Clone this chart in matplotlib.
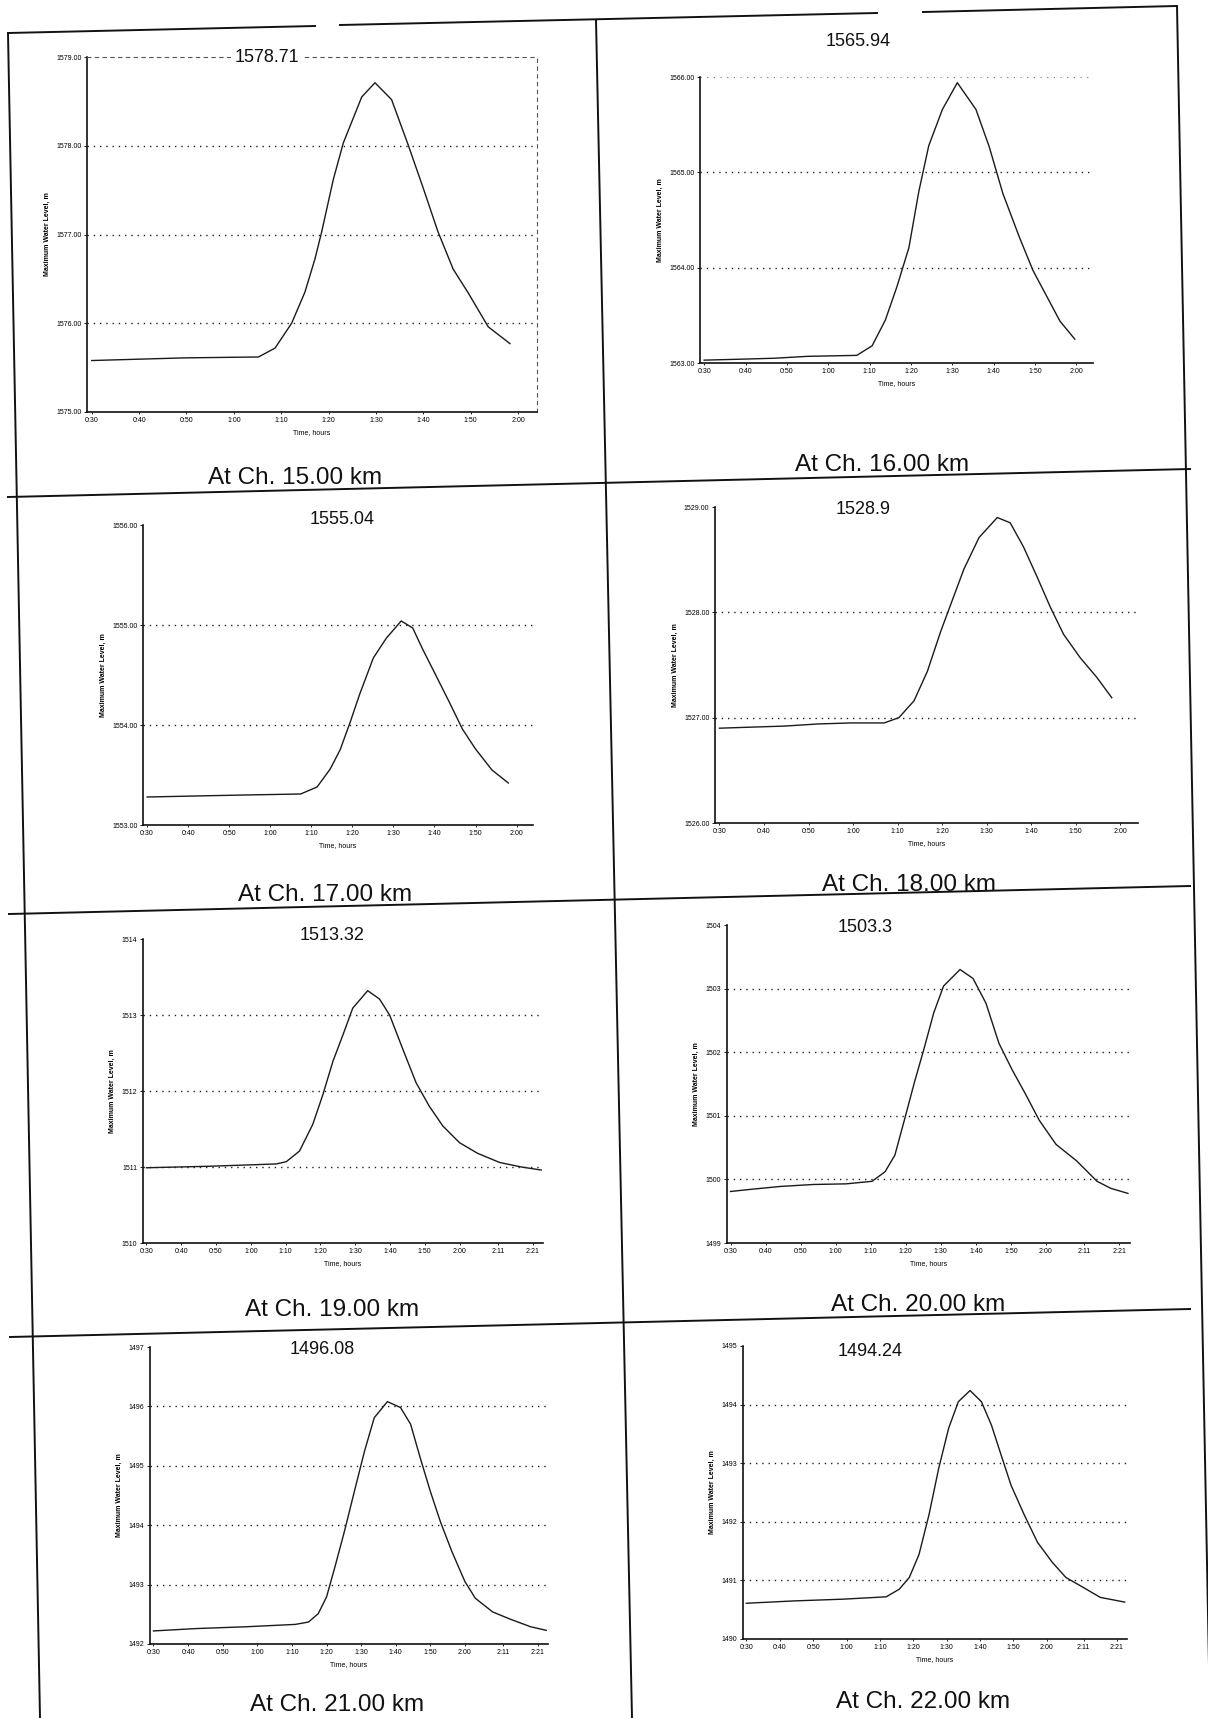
import matplotlib
matplotlib.use("Agg")
import matplotlib.pyplot as plt
from matplotlib.lines import Line2D

plt.rcParams['font.family'] = ['Liberation Sans', 'DejaVu Sans']

W, H = 1208, 1718

# ---- data (time in minutes, level in m) ----
ch15_time = [30, 49.7, 65.2, 68.7, 72.2, 75.0, 77.1, 78.5, 81.0, 83.1, 87.0, 89.8,
             93.3, 96.8, 100.0, 103.1, 106.3, 109.5, 113.7, 118.3]
ch15_level = [1575.58, 1575.61, 1575.62, 1575.72, 1576.00, 1576.35, 1576.72, 1577.02,
              1577.62, 1578.03, 1578.55, 1578.71, 1578.52, 1578.01, 1577.52, 1577.03,
              1576.61, 1576.34, 1575.96, 1575.77]

ch16_time = [30, 38.9, 47.0, 55.1, 66.9, 70.6, 73.8, 76.6, 79.5, 81.9, 84.3, 87.6,
             91.2, 95.7, 98.9, 102.2, 106.2, 109.5, 116.0, 119.6]
ch16_level = [1563.03, 1563.04, 1563.05, 1563.07, 1563.08, 1563.18, 1563.45, 1563.80,
              1564.21, 1564.80, 1565.28, 1565.66, 1565.94, 1565.66, 1565.27, 1564.78,
              1564.32, 1563.97, 1563.44, 1563.25]

ch17_time = [30, 41.7, 53.7, 67.4, 71.4, 74.6, 77.0, 79.4, 81.8, 85.1, 88.3, 91.9,
             94.7, 97.1, 100.3, 103.6, 106.8, 110.0, 114.0, 118.0]
ch17_level = [1553.28, 1553.29, 1553.30, 1553.31, 1553.38, 1553.56, 1553.75, 1554.02,
              1554.31, 1554.67, 1554.87, 1555.04, 1554.97, 1554.76, 1554.50, 1554.23,
              1553.96, 1553.76, 1553.55, 1553.42]

ch18_time = [30, 37.1, 44.6, 52.0, 59.5, 67.0, 70.3, 73.7, 76.7, 79.7, 81.9, 84.9,
             88.3, 92.4, 95.3, 98.3, 101.3, 104.3, 107.3, 111.0, 114.8, 118.1]
ch18_level = [1526.90, 1526.91, 1526.92, 1526.94, 1526.95, 1526.95, 1527.00, 1527.16,
              1527.44, 1527.82, 1528.07, 1528.41, 1528.71, 1528.90, 1528.85, 1528.62,
              1528.34, 1528.05, 1527.79, 1527.57, 1527.38, 1527.19]

ch19_time = [30, 48.2, 67.3, 70.2, 74.0, 77.8, 80.7, 83.6, 86.5, 89.3, 93.6, 97.0,
             99.9, 103.7, 107.5, 111.3, 115.2, 120.0, 125.2, 131.5, 137.8, 143.5]
ch19_level = [1510.99, 1511.01, 1511.04, 1511.07, 1511.21, 1511.56, 1511.95, 1512.39,
              1512.74, 1513.09, 1513.32, 1513.21, 1513.00, 1512.55, 1512.11, 1511.80,
              1511.54, 1511.32, 1511.18, 1511.06, 1511.00, 1510.96]

ch20_time = [30, 35.1, 44.4, 53.7, 63.0, 70.4, 74.1, 76.9, 79.7, 82.5, 85.2, 88.0,
             90.8, 95.5, 99.2, 102.9, 106.6, 110.4, 114.1, 118.1, 122.9, 128.8,
             134.6, 138.5, 143.4]
ch20_level = [1499.81, 1499.84, 1499.89, 1499.92, 1499.93, 1499.97, 1500.12, 1500.38,
              1500.95, 1501.53, 1502.05, 1502.62, 1503.04, 1503.30, 1503.16, 1502.77,
              1502.14, 1501.72, 1501.35, 1500.93, 1500.55, 1500.29, 1499.97, 1499.86,
              1499.78]

ch21_time = [30, 42.4, 56.7, 71.0, 74.8, 77.6, 80.0, 82.4, 85.2, 88.1, 91.0, 93.8,
             97.6, 101.4, 104.3, 107.1, 110.0, 112.9, 116.2, 120.0, 123.0, 128.0,
             133.0, 139.0, 143.5]
ch21_level = [1492.22, 1492.26, 1492.29, 1492.33, 1492.37, 1492.51, 1492.79, 1493.29,
              1493.90, 1494.58, 1495.25, 1495.81, 1496.08, 1495.98, 1495.70, 1495.13,
              1494.57, 1494.06, 1493.56, 1493.05, 1492.77, 1492.54, 1492.42, 1492.29,
              1492.23]

ch22_time = [30, 44.3, 59.1, 71.9, 75.8, 78.8, 81.7, 84.7, 87.6, 90.6, 93.5, 97.0,
             100.4, 103.4, 106.3, 109.3, 113.3, 117.2, 121.6, 125.7, 130.9, 136.0, 143.3]
ch22_level = [1490.61, 1490.65, 1490.68, 1490.72, 1490.85, 1491.05, 1491.44, 1492.12,
              1492.91, 1493.60, 1494.05, 1494.24, 1494.05, 1493.65, 1493.14, 1492.62,
              1492.11, 1491.65, 1491.31, 1491.05, 1490.88, 1490.71, 1490.63]

peak_labels = ["1578.71", "1565.94", "1555.04", "1528.9",
               "1513.32", "1503.3", "1496.08", "1494.24"]
captions = ["At Ch. 15.00 km", "At Ch. 16.00 km", "At Ch. 17.00 km", "At Ch. 18.00 km",
            "At Ch. 19.00 km", "At Ch. 20.00 km", "At Ch. 21.00 km", "At Ch. 22.00 km"]
y_ranges = [(1575, 1579), (1563, 1566), (1553, 1556), (1526, 1529),
            (1510, 1514), (1499, 1504), (1492, 1497), (1490, 1495)]

short_ticks = [30, 40, 50, 60, 70, 80, 90, 100, 110, 120]
short_labels = ["0:30", "0:40", "0:50", "1:00", "1:10", "1:20", "1:30", "1:40", "1:50", "2:00"]
long_ticks = short_ticks + [131, 141]
long_labels = short_labels + ["2:11", "2:21"]

series = [(ch15_time, ch15_level), (ch16_time, ch16_level), (ch17_time, ch17_level),
          (ch18_time, ch18_level), (ch19_time, ch19_level), (ch20_time, ch20_level),
          (ch21_time, ch21_level), (ch22_time, ch22_level)]

# ---- layout in page pixels: axes box (left, right, top, bottom), title xy, caption xy ----
boxes = [(87, 537, 57, 412), (700, 1093, 77, 363), (143, 533, 525, 825), (715, 1138, 507, 823),
         (143, 543, 939, 1243), (727, 1130, 925, 1243), (150, 548, 1347, 1644), (743, 1127, 1346, 1639)]
title_xy = [(267, 58), (858, 42), (342, 520), (863, 510),
            (332, 935), (865, 927), (322, 1350), (870, 1352)]
caption_xy = [(295, 478), (882, 465), (325, 895), (909, 885),
              (332, 1310), (918, 1305), (337, 1705), (923, 1702)]

fig = plt.figure(figsize=(W / 100, H / 100), dpi=100)
fig.patch.set_facecolor('white')


def px_axes(left, right, top, bottom):
    return fig.add_axes([left / W, 1 - bottom / H, (right - left) / W, (bottom - top) / H])


def page_line(x0, y0, x1, y1, lw=1.4):
    fig.add_artist(Line2D([x0 / W, x1 / W], [1 - y0 / H, 1 - y1 / H],
                          transform=fig.transFigure, color='#111111', lw=lw))


# table frame (the scan is slightly skewed)
page_line(8, 33, 315, 26)
page_line(340, 25, 877, 13)
page_line(923, 12, 1177, 6)
page_line(8, 33, 40, 1718)
page_line(596, 20, 632, 1718)
page_line(1177, 6, 1210, 1718)
page_line(8, 497, 1190, 469)
page_line(9, 914, 1190, 886)
page_line(10, 1337, 1190, 1309)

for i, (t, lv) in enumerate(series):
    ax = px_axes(*boxes[i])
    lo, hi = y_ranges[i]
    long_axis = i >= 4
    ax.plot(t, lv, color='#1a1a1a', lw=1.0, solid_joinstyle='round')
    ax.set_ylim(lo, hi)
    if long_axis:
        ax.set_xlim(29, 144)
        ax.set_xticks(long_ticks)
        ax.set_xticklabels(long_labels)
        ax.set_yticks(range(lo, hi + 1))
        ax.set_yticklabels([str(v) for v in range(lo, hi + 1)])
    else:
        ax.set_xlim(29, 124)
        ax.set_xticks(short_ticks)
        ax.set_xticklabels(short_labels)
        ax.set_yticks(range(lo, hi + 1))
        ax.set_yticklabels(["%.2f" % v for v in range(lo, hi + 1)])
    for v in range(lo + 1, hi):
        ax.axhline(v, color='#222222', lw=1.0, ls=(0, (1, 3.5)))
    ax.tick_params(labelsize=5, length=2, width=0.6, pad=2)
    ax.tick_params(axis='x', length=1.5)
    ax.set_xlabel("Time, hours", fontsize=5, labelpad=4)
    ax.set_ylabel("Maximum Water Level, m", fontsize=5, fontweight='bold', labelpad=4)
    for side in ('left', 'bottom'):
        ax.spines[side].set_linewidth(1.2)
        ax.spines[side].set_color('#111111')
    if i == 0:
        for side in ('top', 'right'):
            ax.spines[side].set_linestyle((0, (3, 4)))
            ax.spines[side].set_color('#555555')
            ax.spines[side].set_linewidth(0.8)
    else:
        ax.spines['top'].set_visible(False)
        ax.spines['right'].set_visible(False)
    if i == 1:
        ax.axhline(hi, color='#777777', lw=0.8, ls=(0, (1, 5)), clip_on=False)
    ax.patch.set_alpha(0)

    fig.text(title_xy[i][0] / W, 1 - title_xy[i][1] / H, peak_labels[i],
             fontsize=13, ha='center', va='center', color='#111111',
             bbox=dict(facecolor='white', edgecolor='none', pad=3))
    fig.text(caption_xy[i][0] / W, 1 - caption_xy[i][1] / H, captions[i],
             fontsize=17.5, ha='center', va='center', color='#111111')

fig.savefig("out.png", dpi=100, facecolor='white')
